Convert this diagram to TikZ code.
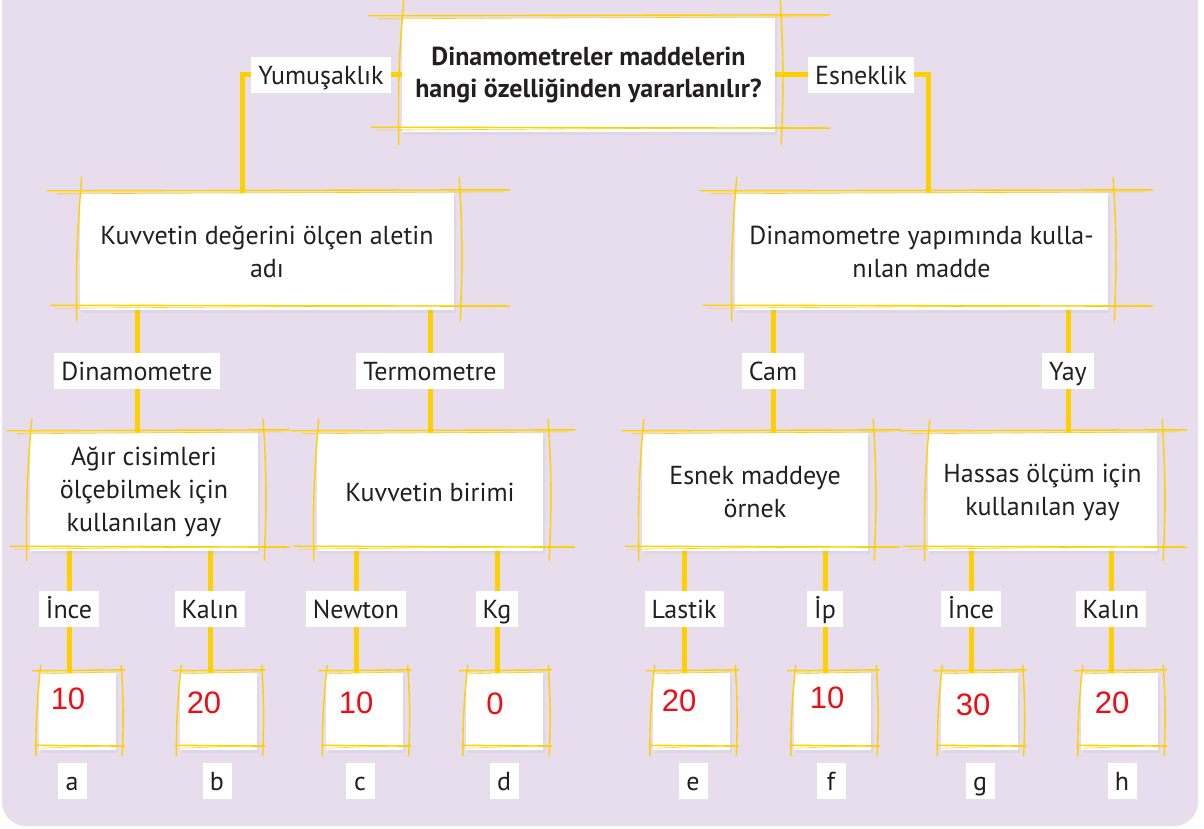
\documentclass[tikz,border=0pt]{standalone}
\usepackage{fontspec}
\setmainfont{PT Sans}
\newfontfamily\numfont{Liberation Sans}
\usetikzlibrary{positioning, shadows}
\definecolor{lavender}{RGB}{231,221,237}
\definecolor{gold}{RGB}{255,208,0}
\definecolor{ink}{RGB}{35,31,32}
\definecolor{numred}{RGB}{240,12,20}
\pgfdeclarelayer{bg}
\pgfdeclarelayer{links}
\pgfsetlayers{bg,links,main}

% hand drawn frame round a box: node, left / right overhang, vertical overhang
\newcommand{\sketchframe}[4]{%
  \draw[sketch] ([shift={(-#2,-2)}]#1.north west) -- ([shift={(#3,-3)}]#1.north east);
  \draw[sketch,line width=0.6pt] ([shift={(-#2+10,1)}]#1.north west) -- ([shift={(#3-6,-1)}]#1.north east);
  \draw[sketch] ([shift={(-#2+3,-5)}]#1.south west) -- ([shift={(#3,-4)}]#1.south east);
  \draw[sketch,line width=0.6pt] ([shift={(-#2+8,-2)}]#1.south west) -- ([shift={(#3-4,-5)}]#1.south east);
  \draw[sketch] ([shift={(2,-#4)}]#1.north west) to[bend right=3] ([shift={(-3,#4*0.7)}]#1.south west);
  \draw[sketch] ([shift={(5,-#4)}]#1.north east) to[bend left=3] ([shift={(6,#4*0.7)}]#1.south east);
}

\begin{document}
\begin{tikzpicture}[x=1pt,y=-1pt,
    every node/.style={text=ink},
    txt/.style={font=\fontsize{26}{33}\selectfont},
    shade/.style={drop shadow={opacity=0.07,shadow xshift=2pt,shadow yshift=-3pt}},
    qbox/.style={shade,fill=white,align=center,inner sep=0pt,font=\bfseries\fontsize{26}{32}\selectfont},
    box/.style={shade,fill=white,align=center,inner sep=0pt,txt},
    nbox/.style={shade,fill=white,minimum width=77,minimum height=77,inner sep=0pt},
    lbl/.style={fill=white,inner xsep=7pt,inner ysep=0pt,text height=21pt,text depth=2pt,minimum height=36,txt},
    letter/.style={fill=white,minimum width=29,text height=21pt,text depth=2pt,minimum height=36,inner sep=0pt,txt},
    num/.style={text=numred,font=\numfont\fontsize{31}{31}\selectfont},
    link/.style={draw=gold,line width=5pt},
    sketch/.style={draw=gold,line width=1.4pt}]
  \useasboundingbox (0,0) rectangle (1204,829);
  \begin{pgfonlayer}{bg}
    \fill[lavender,rounded corners=24pt] (2,-40) rectangle (1198,826);
  \end{pgfonlayer}

  % question
  \node[qbox,minimum width=373,minimum height=114] (soru) at (588.5,75)
    {Dinamometreler maddelerin\\hangi özelliğinden yararlanılır?};

  % second row
  \node[box,minimum width=374,minimum height=117] (kuvad) at (267,251.5)
    {Kuvvetin değerini ölçen aletin\\adı};
  \node[box,minimum width=373,minimum height=117] (dinyap) at (921.5,251.5)
    {Dinamometre yapımında kulla-\\nılan madde};

  % third row
  \node[box,minimum width=228,minimum height=118] (agir) at (144,492)
    {Ağır cisimleri\\ölçebilmek için\\kullanılan yay};
  \node[box,minimum width=226,minimum height=118] (birim) at (430,492)
    {Kuvvetin birimi};
  \node[box,minimum width=226,minimum height=118] (esnek) at (755,492)
    {Esnek maddeye\\örnek};
  \node[box,minimum width=229,minimum height=118] (hassas) at (1042.5,492)
    {Hassas ölçüm için\\kullanılan yay};

  % answer boxes
  \node[nbox] (ba) at (77.5,711.5) {};
  \node[nbox] (bb) at (218,711.5) {};
  \node[nbox] (bc) at (364,711.5) {};
  \node[nbox] (bd) at (504.5,711.5) {};
  \node[nbox] (be) at (691.5,711.5) {};
  \node[nbox] (bf) at (832.5,711.5) {};
  \node[nbox] (bg) at (979,711.5) {};
  \node[nbox] (bh) at (1119.5,711.5) {};

  \node[num] (na) at (68,699) {10};
  \node[num] (nb) at (204,703) {20};
  \node[num] (nc) at (356,703) {10};
  \node[num] (nd) at (495,704) {0};
  \node[num] (ne) at (679,701) {20};
  \node[num] (nf) at (827,698) {10};
  \node[num] (ng) at (973,705) {30};
  \node[num] (nh) at (1112,703) {20};

  \node[letter] (la) at (72,781) {a};
  \node[letter] (lb) at (217,781) {b};
  \node[letter] (lc) at (360,781) {c};
  \node[letter] (ld) at (504,781) {d};
  \node[letter] (le) at (693,781) {e};
  \node[letter] (lf) at (831,781) {f};
  \node[letter] (lg) at (980,781) {g};
  \node[letter] (lh) at (1122,781) {h};

  % labels on the links
  \node[lbl] (yumusak) at (321,75) {Yumuşaklık};
  \node[lbl] (esneklik) at (861,75) {Esneklik};
  \node[lbl] (dinamo) at (137,371) {Dinamometre};
  \node[lbl] (termo) at (430,371) {Termometre};
  \node[lbl] (cam) at (773,371) {Cam};
  \node[lbl] (yay) at (1068,371) {Yay};
  \node[lbl] (ince1) at (69,609) {İnce};
  \node[lbl] (kalin1) at (210,609) {Kalın};
  \node[lbl] (newton) at (356,609) {Newton};
  \node[lbl] (kg) at (497,609) {Kg};
  \node[lbl] (lastik) at (684,609) {Lastik};
  \node[lbl] (ip) at (825,609) {İp};
  \node[lbl] (ince2) at (971,609) {İnce};
  \node[lbl] (kalin2) at (1111,609) {Kalın};

  \begin{pgfonlayer}{links}
    \draw[link] (soru.west) -| ([xshift=-25pt]kuvad.north);
    \draw[link] (soru.east) -| ([xshift=6.5pt]dinyap.north);
    \draw[link] (kuvad.south -| dinamo) -- (agir.north -| dinamo);
    \draw[link] (kuvad.south -| termo) -- (birim.north -| termo);
    \draw[link] (dinyap.south -| cam) -- (esnek.north -| cam);
    \draw[link] (dinyap.south -| yay) -- (hassas.north -| yay);
    \draw[link] (agir.south -| ince1) -- (ba.north -| ince1);
    \draw[link] (agir.south -| kalin1) -- (bb.north -| kalin1);
    \draw[link] (birim.south -| newton) -- (bc.north -| newton);
    \draw[link] (birim.south -| kg) -- (bd.north -| kg);
    \draw[link] (esnek.south -| lastik) -- (be.north -| lastik);
    \draw[link] (esnek.south -| ip) -- (bf.north -| ip);
    \draw[link] (hassas.south -| ince2) -- (bg.north -| ince2);
    \draw[link] (hassas.south -| kalin2) -- (bh.north -| kalin2);
  \end{pgfonlayer}

  % sketchy frames
  \sketchframe{soru}{34}{55}{18}
  \sketchframe{kuvad}{33}{56}{16}
  \sketchframe{dinyap}{35}{45}{16}
  \sketchframe{agir}{23}{32}{14}
  \sketchframe{birim}{26}{32}{14}
  \sketchframe{esnek}{20}{32}{14}
  \sketchframe{hassas}{28}{30}{14}
  \foreach \b in {ba,bb,bc,bd,be,bf,bg,bh}
    {\sketchframe{\b}{7}{9}{8}}
\end{tikzpicture}
\end{document}
